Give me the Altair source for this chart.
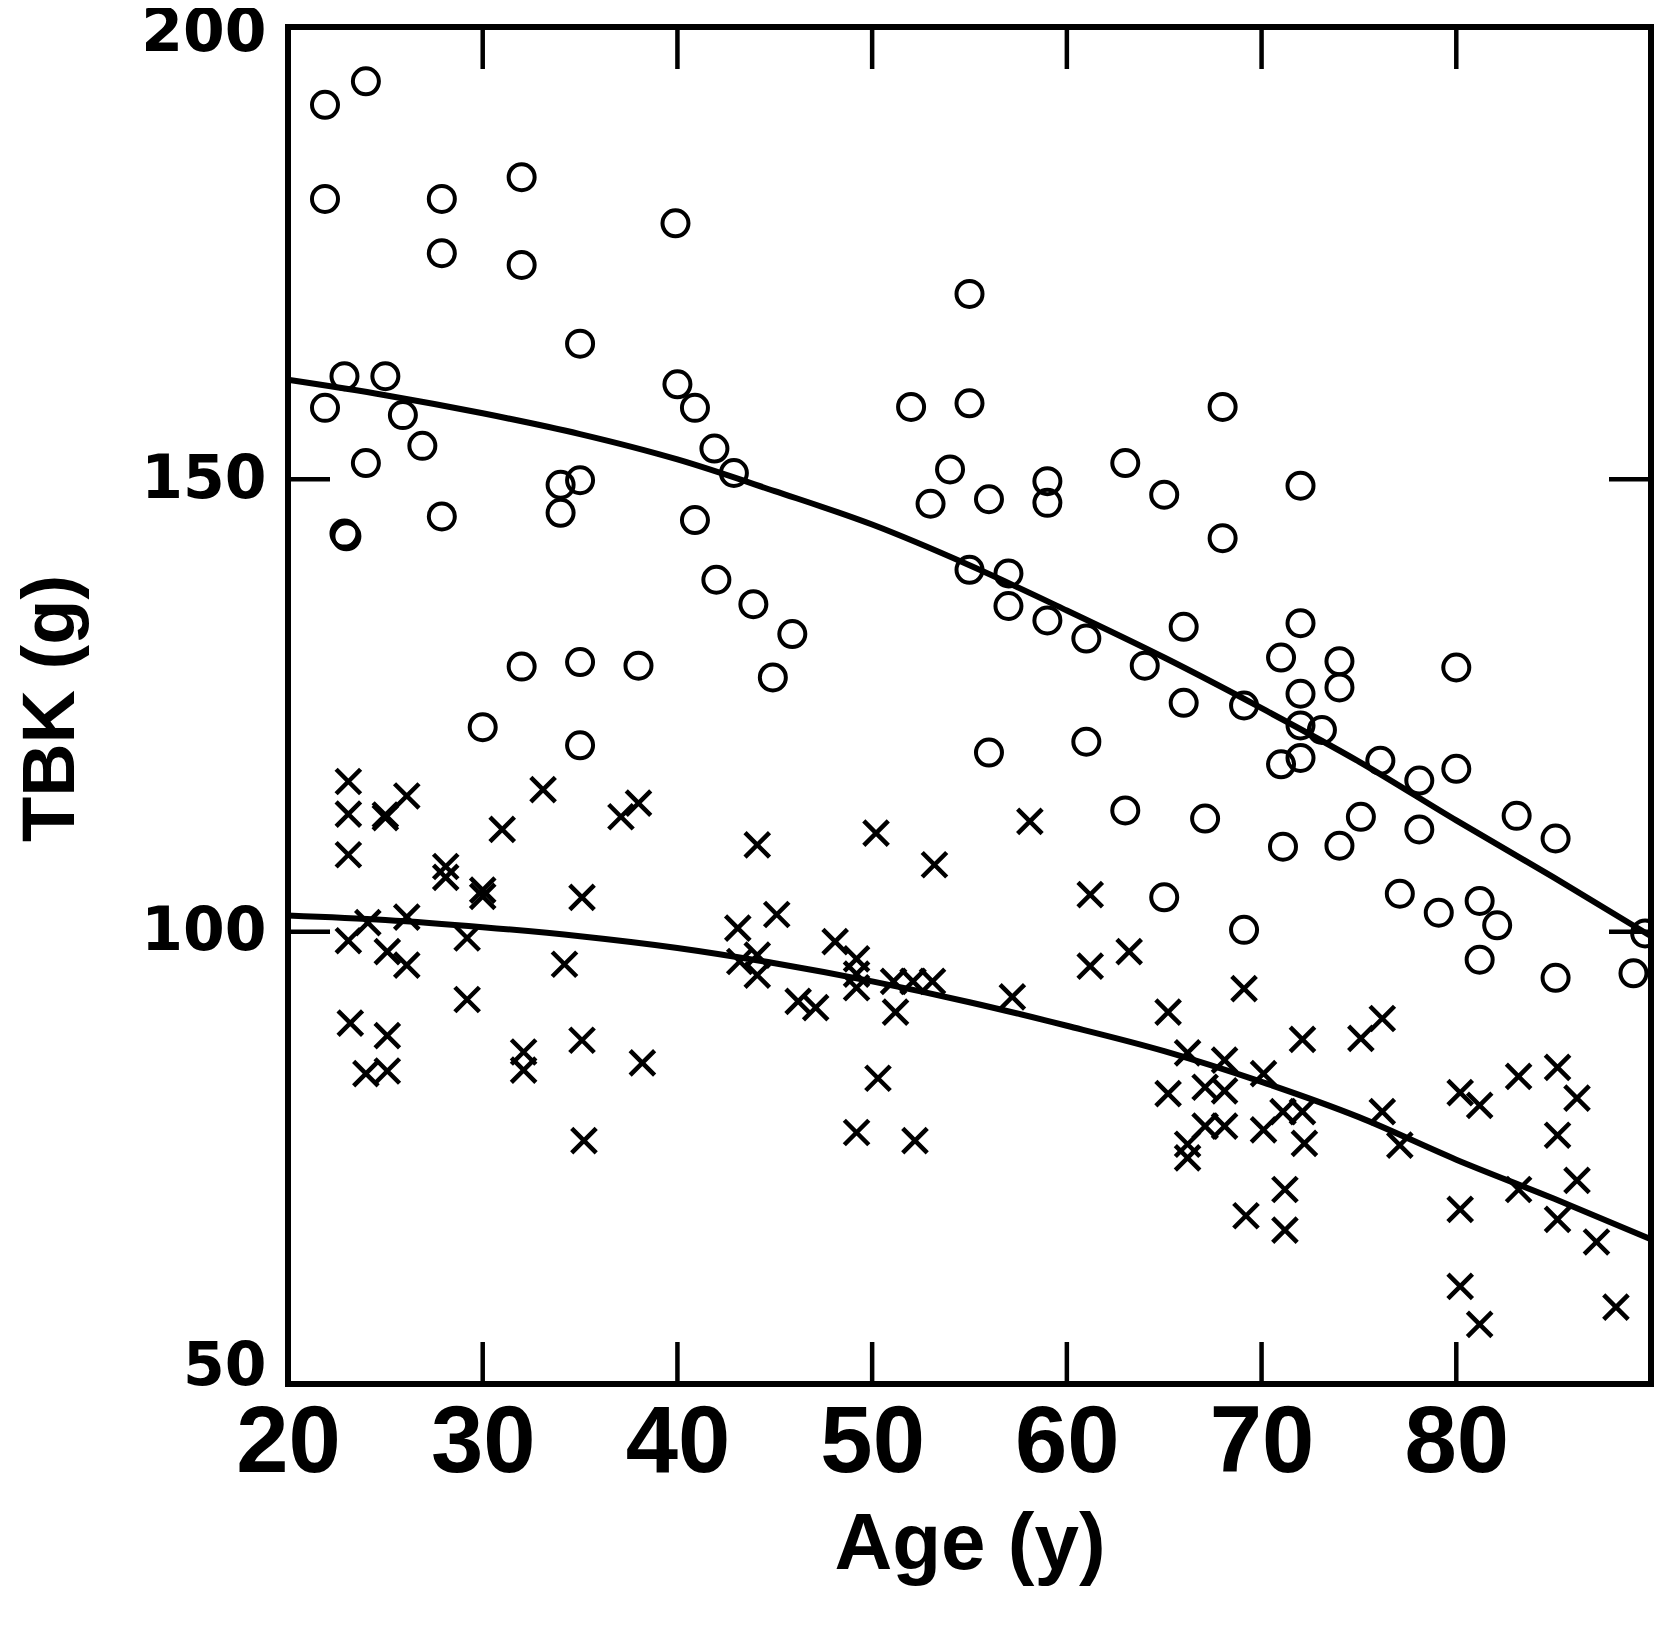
import altair as alt
import pandas as pd

# ---- data ----
men_age = [21.9, 24.0, 21.9, 27.9, 27.9, 32.0, 32.0, 39.9, 55.0, 35.0, 22.9, 25.0, 21.9, 25.9, 24.0,
           26.9, 22.9, 23.0, 27.9, 34.0, 34.0, 35.0, 40.0, 40.9, 41.9, 42.9, 40.9, 42.0, 43.9, 45.9,
           44.9, 32.0, 35.0, 38.0, 30.0, 35.0, 52.0, 54.0, 53.0, 55.0, 56.0, 59.0, 59.0, 55.0, 57.0,
           57.0, 59.0, 61.0, 63.0, 65.0, 68.0, 68.0, 72.0, 66.0, 64.0, 66.0, 69.1, 71.0, 72.0, 72.0,
           74.0, 74.0, 72.0, 73.1, 72.0, 71.0, 61.0, 56.0, 63.0, 67.1, 71.1, 65.0, 76.1, 78.1, 78.1,
           75.1, 74.0, 77.1, 79.1, 80.0, 80.0, 81.2, 82.1, 81.2, 69.1, 83.1, 85.1, 85.1, 89.1, 89.7]
men_tbk = [191.4, 194.0, 181.0, 181.0, 175.0, 183.4, 173.7, 178.3, 170.5, 165.0, 161.4, 161.4, 157.9, 157.1, 151.8,
           153.7, 144.0, 143.7, 145.9, 146.3, 149.4, 149.9, 160.5, 157.9, 153.4, 150.7, 145.5, 138.9, 136.2, 132.9,
           128.1, 129.3, 129.8, 129.4, 122.6, 120.6, 158.0, 151.1, 147.3, 158.4, 147.8, 149.8, 147.4, 140.0, 139.6,
           136.0, 134.4, 132.4, 151.8, 148.3, 158.0, 143.5, 149.3, 133.7, 129.4, 125.3, 125.0, 130.3, 134.1, 126.3,
           129.9, 127.0, 122.8, 122.3, 119.2, 118.5, 121.0, 119.8, 113.4, 112.5, 109.4, 103.8, 118.9, 116.7, 111.3,
           112.7, 109.5, 104.2, 102.1, 129.2, 118.0, 103.4, 100.7, 96.9, 100.2, 112.8, 110.3, 94.9, 95.4, 99.8]

women_age = [23.1, 23.1, 23.1, 25.0, 25.0, 26.1, 31.0, 33.1, 37.1, 38.0, 28.1, 28.1, 30.0, 30.0, 35.1,
             23.1, 24.1, 25.1, 26.1, 26.1, 29.2, 29.2, 34.2, 23.2, 25.1, 24.0, 25.1, 32.1, 32.1, 35.1,
             38.2, 35.2, 43.1, 43.2, 44.1, 44.1, 44.1, 45.1, 48.1, 49.2, 49.2, 49.2, 46.2, 47.1, 51.2,
             51.1, 52.1, 53.1, 50.2, 53.2, 57.2, 58.1, 61.2, 61.2, 63.2, 65.2, 66.2, 65.2, 66.2, 66.2,
             50.3, 49.2, 52.2, 69.1, 72.1, 75.1, 76.2, 68.1, 67.1, 68.1, 70.1, 71.1, 72.1, 67.1, 68.1,
             70.1, 72.2, 76.2, 77.1, 71.2, 71.2, 69.2, 80.2, 81.2, 83.2, 85.2, 86.2, 85.2, 86.2, 83.2,
             85.2, 87.2, 80.2, 80.2, 81.2, 88.2]
women_tbk = [116.6, 113.0, 108.5, 112.9, 112.6, 115.0, 111.3, 115.7, 112.7, 114.2, 107.2, 106.0, 104.6, 103.9, 103.8,
             99.0, 101.0, 97.8, 96.3, 101.6, 99.3, 92.5, 96.4, 89.9, 88.5, 84.3, 84.6, 86.7, 84.7, 88.0,
             85.5, 76.9, 100.4, 96.7, 97.4, 95.2, 109.6, 101.9, 98.9, 97.0, 95.3, 93.8, 92.3, 91.6, 91.1,
             94.5, 94.5, 94.5, 110.9, 107.4, 92.8, 112.2, 104.1, 96.2, 97.8, 91.1, 86.6, 82.1, 76.5, 75.0,
             83.8, 77.8, 76.9, 93.7, 88.1, 88.2, 90.4, 85.8, 82.8, 82.4, 84.3, 80.1, 80.1, 78.5, 78.5,
             78.1, 76.6, 80.1, 76.4, 71.5, 67.0, 68.6, 82.2, 80.8, 84.0, 85.0, 81.6, 77.5, 72.5, 71.5,
             68.2, 65.7, 69.3, 60.8, 56.6, 58.5]

curve_age = [20, 25, 30, 35, 40, 45, 50, 55, 60, 65, 70, 75, 80, 85, 90]
men_curve = [161.0, 159.3, 157.3, 155.0, 152.2, 148.7, 145.0, 140.5, 135.5, 130.3, 124.7, 118.8, 112.3, 106.0, 99.5]
women_curve = [101.8, 101.3, 100.5, 99.5, 98.2, 96.5, 94.5, 92.2, 89.6, 86.8, 83.4, 79.5, 74.8, 70.5, 66.0]

x_ticks = [30, 40, 50, 60, 70, 80]
y_ticks = [100, 150]
x_labels = [20, 30, 40, 50, 60, 70, 80]
y_labels = [50, 100, 150, 200]

W, H = 1363, 1357
TL = 42

men = pd.DataFrame({"age": men_age, "tbk": men_tbk})
women = pd.DataFrame({"age": women_age, "tbk": women_tbk})
curves = pd.DataFrame({"age": curve_age * 2,
                       "tbk": men_curve + women_curve,
                       "sex": ["M"] * len(curve_age) + ["F"] * len(curve_age)})
xt = pd.DataFrame({"age": x_ticks})
yt = pd.DataFrame({"tbk": y_ticks})

xs = alt.Scale(domain=[20, 90], nice=False, zero=False)
ys = alt.Scale(domain=[50, 200], nice=False, zero=False)

x_axis = alt.Axis(values=x_labels, grid=False, domain=False, ticks=False, tickSize=0,
                  labelFont="Liberation Sans", labelFontSize=94, labelFlush=False,
                  labelFontWeight="bold", labelColor="black", labelPadding=13, labelBaseline="top",
                  title="Age (y)", titleFont="Liberation Sans", titleFontSize=80,
                  titleFontWeight="bold", titleColor="black", titleY=184,
                  titleBaseline="alphabetic")
y_axis = alt.Axis(values=y_labels, grid=False, domain=False, ticks=False, tickSize=0,
                  labelFont="DejaVu Sans", labelFontSize=60, labelFontWeight="bold",
                  labelColor="black", labelPadding=22, labelFlush=False,
                  labelBaseline={"condition": {"test": "datum.value == 50", "value": "alphabetic"},
                                 "value": "middle"},
                  labelOffset={"condition": {"test": "datum.value == 200", "value": 5},
                               "value": 0},
                  title="TBK (g)", titleFont="Liberation Sans", titleFontSize=74,
                  titleFontWeight="bold", titleColor="black", titleAngle=270,
                  titleX=-215, titleY=681, titleAlign="center", titleBaseline="alphabetic")

base_x = alt.X("age:Q", scale=xs, axis=x_axis)
base_y = alt.Y("tbk:Q", scale=ys, axis=y_axis)

pts_m = alt.Chart(men).mark_point(shape="circle", filled=False, stroke="black",
                                  strokeWidth=4, size=676, opacity=1, clip=True).encode(
    x=base_x, y=base_y)
pts_f = alt.Chart(women).mark_point(shape="M-1,-1L1,1M-1,1L1,-1", filled=False, stroke="black",
                                    strokeWidth=4.5, size=600, opacity=1, clip=True).encode(
    x=alt.X("age:Q", scale=xs), y=alt.Y("tbk:Q", scale=ys))
lines = alt.Chart(curves).mark_line(color="black", strokeWidth=6, interpolate="monotone").encode(
    x=alt.X("age:Q", scale=xs), y=alt.Y("tbk:Q", scale=ys), detail="sex:N")

top_t = alt.Chart(xt).mark_rule(color="black", strokeWidth=4.5).encode(
    x=alt.X("age:Q", scale=xs), y=alt.value(0), y2=alt.value(TL))
bot_t = alt.Chart(xt).mark_rule(color="black", strokeWidth=4.5).encode(
    x=alt.X("age:Q", scale=xs), y=alt.value(H - TL), y2=alt.value(H))
left_t = alt.Chart(yt).mark_rule(color="black", strokeWidth=4.5).encode(
    y=alt.Y("tbk:Q", scale=ys), x=alt.value(0), x2=alt.value(TL))
right_t = alt.Chart(yt).mark_rule(color="black", strokeWidth=4.5).encode(
    y=alt.Y("tbk:Q", scale=ys), x=alt.value(W - TL), x2=alt.value(W))

chart = alt.layer(pts_m, pts_f, lines, top_t, bot_t, left_t, right_t).properties(
    width=W, height=H,
    autosize=alt.AutoSizeParams(type="none"),
    padding={"left": 280, "top": 19, "right": 4, "bottom": 225},
    background="white",
).configure_view(stroke="black", strokeWidth=6)

chart.save("out.html", embed_options={"renderer": "svg", "actions": False})
